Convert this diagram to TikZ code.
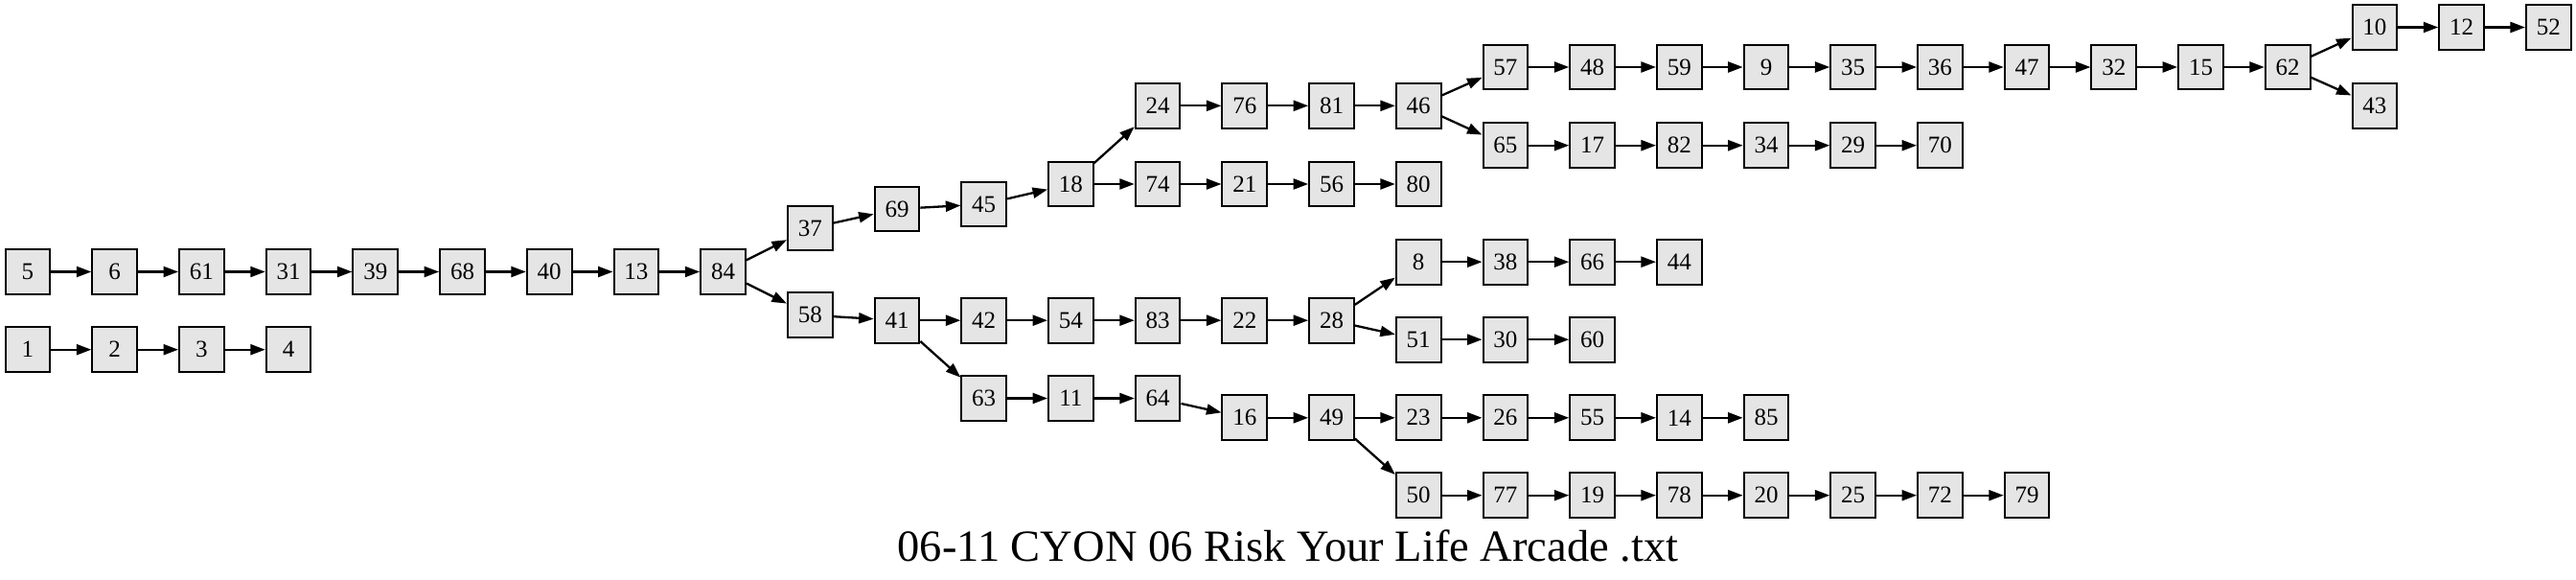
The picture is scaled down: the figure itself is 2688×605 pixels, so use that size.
\documentclass[tikz,border=0pt]{standalone}
\usepackage{fontspec}
\setmainfont{Liberation Serif}
\usetikzlibrary{arrows.meta}
\definecolor{nodefill}{RGB}{229,229,229}
\tikzset{
  box/.style={draw=black, line width=2pt, fill=nodefill, minimum width=46.7pt, minimum height=46.7pt, inner sep=0pt, font=\fontsize{25}{29}\selectfont},
  edge/.style={line width=2.3pt, -{Triangle[length=15.5pt,width=11pt]}},
  titletext/.style={font=\fontsize{46.5}{52}\selectfont, anchor=base, inner sep=0pt}
}
\begin{document}
\begin{tikzpicture}[x=1pt,y=-1pt]
\useasboundingbox (0,0) rectangle (2688,605);
\foreach \n/\c/\y in {
 5/0/283.5, 6/1/283.5, 61/2/283.5, 31/3/283.5, 39/4/283.5, 68/5/283.5, 40/6/283.5, 13/7/283.5, 84/8/283.5,
 1/0/364.7, 2/1/364.7, 3/2/364.7, 4/3/364.7,
 37/9/238, 58/9/328.7,
 69/10/218, 41/10/334.2,
 45/11/213, 42/11/334.2, 63/11/415.5,
 18/12/192, 54/12/334.2, 11/12/415.5,
 24/13/110.3, 74/13/192, 83/13/334.2, 64/13/415.5,
 76/14/110.3, 21/14/192, 22/14/334.2, 16/14/435.8,
 81/15/110.3, 56/15/192, 28/15/334.2, 49/15/435.8,
 46/16/110.3, 80/16/192, 8/16/273.2, 51/16/354.2, 23/16/435.8, 50/16/516.7,
 57/17/70, 65/17/151.7, 38/17/273.2, 30/17/354.2, 26/17/435.8, 77/17/516.7,
 48/18/70, 17/18/151.7, 66/18/273.2, 60/18/354.2, 55/18/435.8, 19/18/516.7,
 59/19/70, 82/19/151.7, 44/19/273.2, 14/19/435.8, 78/19/516.7,
 9/20/70, 34/20/151.7, 85/20/435.8, 20/20/516.7,
 35/21/70, 29/21/151.7, 25/21/516.7,
 36/22/70, 70/22/151.7, 72/22/516.7,
 47/23/70, 79/23/516.7,
 32/24/70, 15/25/70, 62/26/70,
 10/27/28.5, 43/27/110.3, 12/28/28.5, 52/29/28.5}
 { \node[box] (n\n) at ({29+90.7*\c},\y) {\n}; }
\foreach \a/\b in {
 5/6, 6/61, 61/31, 31/39, 39/68, 68/40, 40/13, 13/84, 84/37, 84/58,
 37/69, 69/45, 45/18, 18/24, 18/74, 24/76, 76/81, 81/46, 46/57, 46/65,
 57/48, 48/59, 59/9, 9/35, 35/36, 36/47, 47/32, 32/15, 15/62, 62/10, 62/43,
 10/12, 12/52, 65/17, 17/82, 82/34, 34/29, 29/70, 74/21, 21/56, 56/80,
 58/41, 41/42, 41/63, 42/54, 54/83, 83/22, 22/28, 28/8, 28/51,
 8/38, 38/66, 66/44, 51/30, 30/60, 63/11, 11/64, 64/16, 16/49,
 49/23, 49/50, 23/26, 26/55, 55/14, 14/85,
 50/77, 77/19, 19/78, 78/20, 20/25, 25/72, 72/79,
 1/2, 2/3, 3/4}
 { \draw[edge] (n\a) -- (n\b); }
\node[titletext] (title) at (1344,585) {06-11 CYON 06 Risk Your Life Arcade .txt};
\end{tikzpicture}
\end{document}
